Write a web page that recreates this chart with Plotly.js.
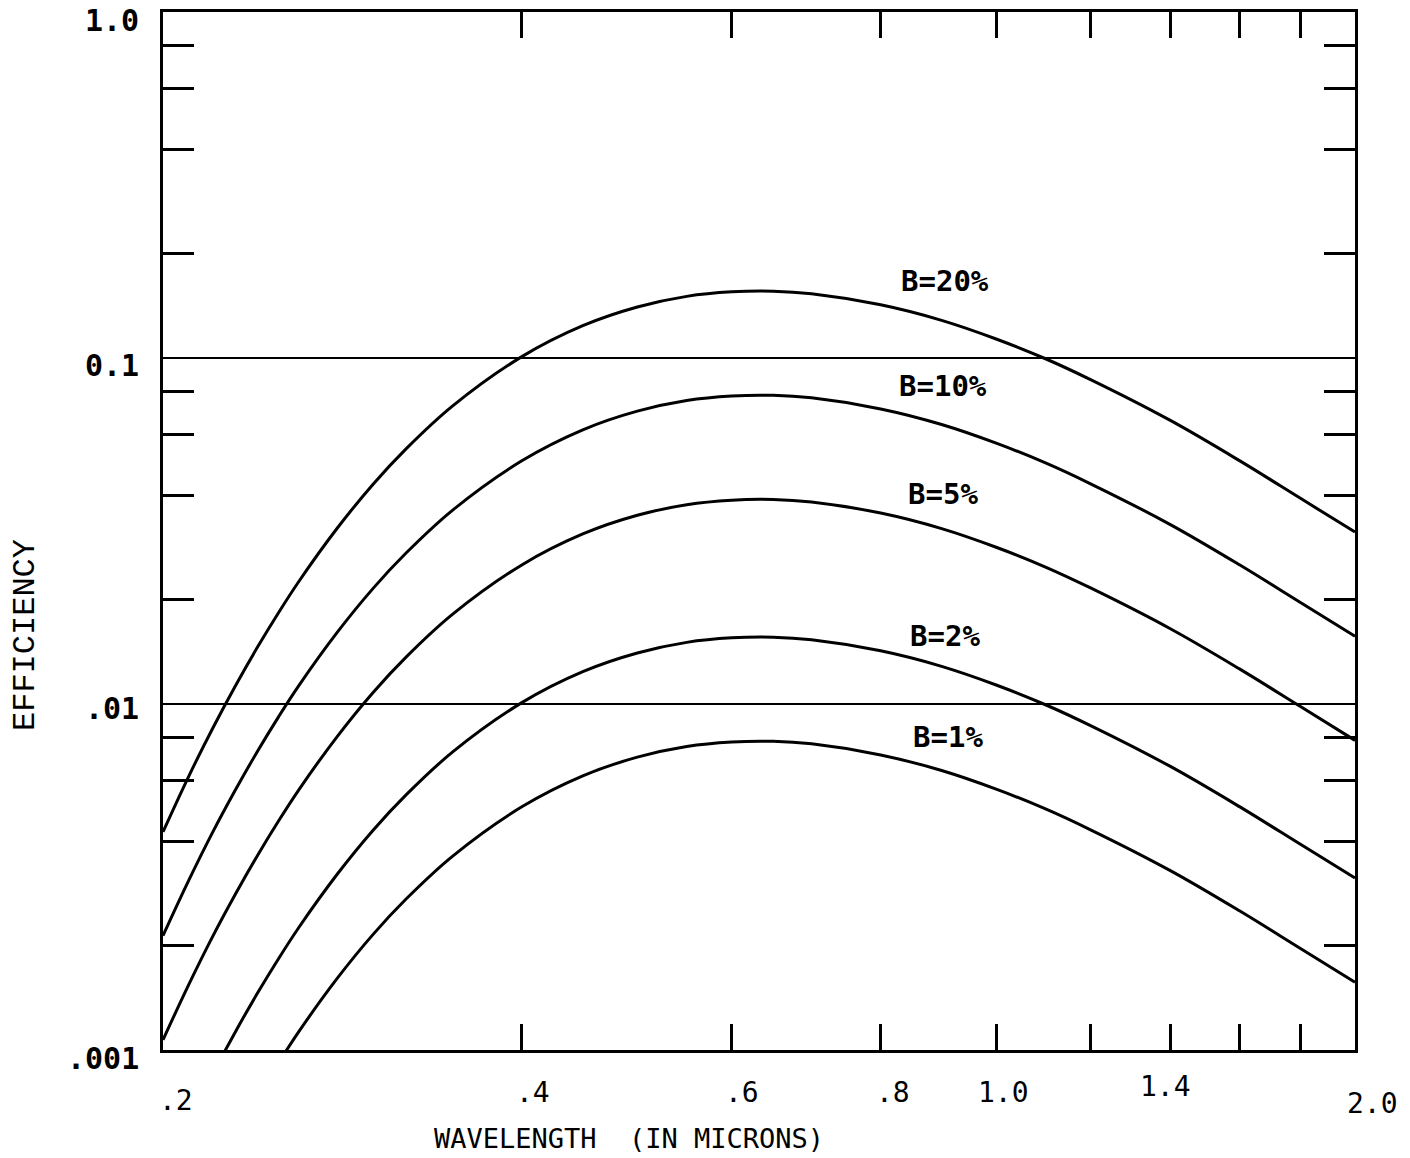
<!DOCTYPE html>
<html><head><meta charset="utf-8">
<script src="https://cdn.plot.ly/plotly-3.0.1.min.js"></script>
<style>html,body{margin:0;padding:0;background:#fff}#chart{width:1410px;height:1158px}</style>
</head><body><div id="chart"></div>
<script>
// ---- data ----
const WAVELENGTH = [0.2,0.21,0.22,0.23,0.24,0.25,0.26,0.28,0.3,0.32,0.35,0.4,0.45,0.5,0.55,0.6,0.65,0.7,0.8,0.9,1.0,1.1,1.2,1.4,1.6,1.8,2.0];
const EFF_B20 = [0.00427,0.00614,0.00847,0.01128,0.01458,0.01836,0.0226,0.0322,0.0431,0.0547,0.0727,0.1009,0.1240,0.1404,0.1507,0.1553,0.1560,0.1534,0.1425,0.1285,0.1135,0.0995,0.0866,0.0660,0.0505,0.0393,0.0314];
const EFF_B10 = [0.00214,0.00307,0.00424,0.00564,0.00729,0.00918,0.0113,0.0161,0.02155,0.02735,0.03635,0.05045,0.0620,0.0702,0.07535,0.07765,0.0780,0.0767,0.07125,0.06425,0.05675,0.04975,0.0433,0.0330,0.02525,0.01965,0.0157];
const EFF_B5  = [0.00107,0.001535,0.00212,0.00282,0.003645,0.00459,0.00565,0.00805,0.01078,0.01368,0.01818,0.02523,0.0310,0.0351,0.03768,0.03883,0.0390,0.03835,0.03563,0.03213,0.02838,0.02488,0.02165,0.0165,0.01263,0.00983,0.00785];
const EFF_B2  = [0.000427,0.000614,0.000847,0.001128,0.001458,0.001836,0.00226,0.00322,0.00431,0.00547,0.00727,0.01009,0.0124,0.01404,0.01507,0.01553,0.0156,0.01534,0.01425,0.01285,0.01135,0.00995,0.00866,0.0066,0.00505,0.00393,0.00314];
const EFF_B1  = [0.000214,0.000307,0.000424,0.000564,0.000729,0.000918,0.00113,0.00161,0.002155,0.002735,0.003635,0.005045,0.0062,0.00702,0.007535,0.007765,0.0078,0.00767,0.007125,0.006425,0.005675,0.004975,0.00433,0.0033,0.002525,0.001965,0.00157];
const SERIES_NAMES = ['B=20%','B=10%','B=5%','B=2%','B=1%'];
const SERIES_VALUES = [EFF_B20, EFF_B10, EFF_B5, EFF_B2, EFF_B1];

const X_RANGE = [0.2, 2.0];
const Y_RANGE = [0.001, 1.0];
const X_TICK_VALS = [0.4,0.6,0.8,1.0,1.2,1.4,1.6,1.8];
const X_LABEL_VALS = [0.2,0.4,0.6,0.8,1.0,1.4,2.0];
const X_LABEL_TEXT = ['.2','.4','.6','.8','1.0','1.4','2.0'];
const Y_TICK_VALS = [0.002,0.004,0.006,0.008,0.02,0.04,0.06,0.08,0.2,0.4,0.6,0.8];
const Y_LABEL_VALS = [0.001,0.01,0.1,1.0];
const Y_LABEL_TEXT = ['.001','.01','0.1','1.0'];
const GRID_VALS = [0.01,0.1];
const X_TITLE = 'WAVELENGTH\u00a0\u00a0(IN MICRONS)';
const Y_TITLE = 'EFFICIENCY';

// ---- styling / placement ----
const M = {l:163, r:55, t:12, b:108};
const W = 1410, H = 1158;
const px2x = p => (p - M.l) / (W - M.l - M.r);
const px2y = p => 1 - (p - M.t) / (H - M.t - M.b);
const MONO = 'DejaVu Sans Mono, monospace';
const LABEL_PX = [[945,281],[943,386],[943,494],[945,636],[948,737]];
const XLAB_SHIFT = [13,11,10,12,7,-5,17];
const XLAB_Y = [1100,1092,1092,1092,1092,1086,1103];
const YLAB_SHIFT = [-8,-4,-7,-8];

const traces = SERIES_VALUES.map((vals, i) => ({
  x: WAVELENGTH, y: vals, type: 'scatter', mode: 'lines', name: SERIES_NAMES[i],
  line: {color: '#000', width: 3, shape: 'spline', smoothing: 1},
  showlegend: false, hoverinfo: 'skip'
}));

// horizontal reference lines at the labelled decades (shape positions on log axes are data values)
const shapes = GRID_VALS.map(v => ({
  type: 'line', xref: 'paper', yref: 'y', x0: 0, x1: 1, y0: v, y1: v,
  line: {color: '#000', width: 2}, layer: 'above'
}));

const annotations = [];
SERIES_NAMES.forEach((t, i) => annotations.push({
  text: t, xref: 'paper', yref: 'paper', x: px2x(LABEL_PX[i][0]), y: px2y(LABEL_PX[i][1]),
  xanchor: 'center', yanchor: 'middle', showarrow: false,
  font: {family: MONO, size: 29, color: '#000', weight: 'bold'}
}));
X_LABEL_VALS.forEach((v, i) => annotations.push({
  text: X_LABEL_TEXT[i], xref: 'x', yref: 'paper', x: Math.log10(v), y: px2y(XLAB_Y[i]),
  xshift: XLAB_SHIFT[i], xanchor: 'center', yanchor: 'middle', showarrow: false,
  font: {family: MONO, size: 28, color: '#000'}
}));
Y_LABEL_VALS.forEach((v, i) => annotations.push({
  text: Y_LABEL_TEXT[i], xref: 'paper', yref: 'y', x: px2x(141), y: Math.log10(v),
  yshift: YLAB_SHIFT[i], xanchor: 'right', yanchor: 'middle', showarrow: false,
  font: {family: MONO, size: 30, color: '#000', weight: 'bold'}
}));
annotations.push({
  text: X_TITLE, xref: 'paper', yref: 'paper', x: px2x(629), y: px2y(1138),
  xanchor: 'center', yanchor: 'middle', showarrow: false,
  font: {family: MONO, size: 27, color: '#000'}
});
annotations.push({
  text: Y_TITLE, xref: 'paper', yref: 'paper', x: px2x(25), y: px2y(635), textangle: -90,
  xanchor: 'center', yanchor: 'middle', showarrow: false,
  font: {family: 'Liberation Mono, monospace', size: 32, color: '#000'}
});

const layout = {
  width: W, height: H, margin: M, paper_bgcolor: '#fff', plot_bgcolor: '#fff',
  showlegend: false,
  xaxis: {type: 'log', range: X_RANGE.map(Math.log10), tickvals: X_TICK_VALS, showticklabels: false,
    ticks: 'inside', ticklen: 26, tickwidth: 3, tickcolor: '#000',
    showline: true, linecolor: '#000', linewidth: 3, mirror: 'allticks', showgrid: false, zeroline: false},
  yaxis: {type: 'log', range: Y_RANGE.map(Math.log10), tickvals: Y_TICK_VALS, showticklabels: false,
    ticks: 'inside', ticklen: 31, tickwidth: 3, tickcolor: '#000',
    showline: true, linecolor: '#000', linewidth: 3, mirror: 'allticks', showgrid: false, zeroline: false},
  shapes: shapes,
  annotations: annotations
};

Plotly.newPlot('chart', traces, layout, {staticPlot: true, displayModeBar: false});
</script>
</body></html>
